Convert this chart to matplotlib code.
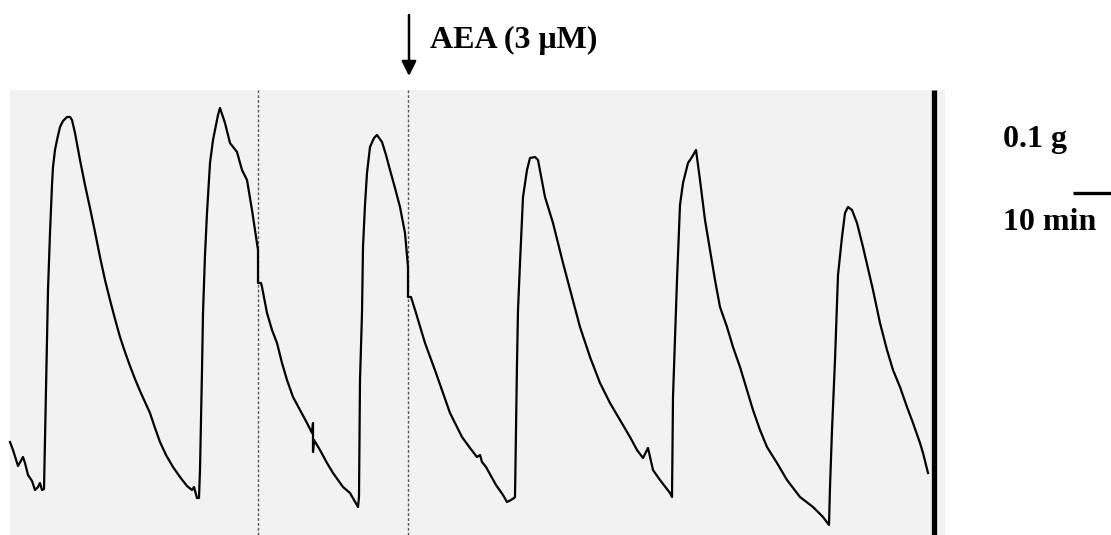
import matplotlib
matplotlib.use('Agg')
import matplotlib.pyplot as plt
import matplotlib.patches as mpatches

# contraction trace
# time (min), tension (mg)
time_min = [
    # baseline + 1st contraction
    0, 0.75, 2.0, 3.25, 3.75, 4.5, 5.5, 6.25, 7.0, 7.5, 8.0, 8.5,
    8.75, 9.0, 9.25, 9.5, 10.0, 10.5, 10.75, 11.25, 11.75, 12.5, 13.25, 14.25, 15.0,
    15.5, 16.25, 17.5, 18.75, 20.0, 21.25, 22.5, 23.75, 25.0, 26.25, 27.5, 28.75, 30.0, 31.25,
    32.5, 33.75, 35.0, 36.25, 37.5, 39.0, 40.75, 42.5, 44.25, 45.5, 46.0, 46.75, 47.25,
    # 2nd
    47.5, 47.75, 48.0, 48.25, 48.75, 49.25, 50.0, 50.75, 51.25, 52.0, 52.5,
    53.75, 55.0, 56.75, 58.0, 59.25, 60.5, 61.25, 62.0, 62.0,
    62.75, 63.0, 64.25, 65.5, 66.75, 68.0, 69.25, 70.75, 72.5, 74.25, 75.5, 75.75, 75.75, 76.0,
    77.5, 79.25, 80.75, 83.25, 85.0, 87.0,
    # 3rd
    87.25, 87.5, 88.0, 88.25, 88.75, 89.25, 90.0, 91.0, 91.75,
    93.0, 94.0, 95.0, 96.25, 97.5, 98.75, 99.5, 99.5,
    100.25, 101.5, 103.75, 106.5, 108.25, 110.0, 113.0, 115.0, 116.75, 117.5, 118.0, 119.0,
    121.5, 123.25, 124.25, 125.25, 126.0,
    # 4th (AEA)
    126.25, 126.5, 126.75, 127.0, 127.5, 128.25, 129.25, 130.0, 131.25, 132.0,
    133.75, 135.75, 138.25, 140.5, 142.5, 145.0, 147.5, 150.0, 152.5, 155.0, 156.75, 158.25,
    159.5, 160.75, 162.5, 165.0, 165.5,
    # 5th
    165.75, 166.25, 166.75, 167.5, 168.25, 169.5, 170.5, 171.5,
    172.5, 173.75, 175.0, 176.25, 177.5, 179.25, 180.75, 182.5, 184.25, 185.75, 187.5, 189.25,
    191.75, 194.25, 197.5, 200.75, 203.25, 204.75,
    # 6th
    205.0, 205.5, 206.25, 207.0, 208.0, 208.75, 209.5,
    210.5, 211.75, 213.25, 215.0, 215.75, 217.5, 219.25, 220.75, 222.5, 224.25, 225.75,
    227.5, 228.25, 229.5,
]
tension_mg = [
    18.6, 17.0, 13.8, 15.6, 14.4, 12.0, 10.8, 9.0, 9.6, 10.4, 9.0, 9.2,
    19.0, 29.0, 39.0, 49.0, 60.4, 70.0, 73.6, 77.0, 79.0, 81.6, 82.8, 83.6, 83.6,
    83.0, 80.4, 75.0, 70.0, 65.4, 60.6, 55.6, 51.0, 47.0, 43.2, 39.6, 36.6, 33.8, 31.2,
    28.8, 26.6, 24.4, 21.4, 18.6, 16.0, 13.6, 11.6, 9.8, 9.0, 9.6, 7.4, 7.4,
    13.0, 23.0, 33.0, 44.4, 56.0, 64.4, 74.4, 79.0, 81.0, 84.0, 85.4,
    82.4, 78.4, 76.6, 73.0, 71.0, 65.0, 61.0, 57.0, 50.4,
    50.4, 49.6, 44.4, 41.0, 38.4, 34.4, 31.0, 27.6, 25.0, 22.4, 20.4, 22.4, 16.6, 19.0,
    17.0, 14.4, 12.4, 9.6, 8.4, 5.6,
    7.6, 31.0, 44.4, 57.6, 66.0, 72.4, 77.6, 79.4, 80.0,
    78.6, 76.0, 73.0, 69.4, 65.6, 60.4, 53.6, 47.6,
    47.6, 44.4, 38.4, 32.4, 28.4, 24.4, 19.6, 17.4, 15.6, 16.0, 14.6, 13.6,
    10.0, 8.0, 6.6, 7.0, 7.4,
    7.6, 21.0, 34.4, 45.0, 54.4, 67.6, 73.0, 75.4, 75.6, 75.0,
    67.6, 62.4, 54.4, 47.6, 41.6, 35.6, 30.4, 26.4, 23.0, 19.6, 17.0, 15.4,
    17.4, 13.0, 11.0, 8.4, 7.6,
    27.6, 39.0, 51.0, 66.0, 70.4, 74.4, 75.6, 77.0,
    71.0, 63.0, 57.0, 51.0, 45.6, 41.6, 37.6, 33.6, 29.0, 25.0, 21.0, 17.6,
    14.4, 11.0, 7.6, 5.6, 3.6, 2.0,
    9.6, 21.0, 35.0, 52.0, 59.6, 64.4, 65.6,
    65.0, 62.4, 57.6, 51.6, 49.0, 42.4, 37.0, 33.0, 29.6, 25.6, 22.4,
    18.4, 16.4, 12.4,
]

# chart marks
break_times = [62.0, 99.5]      # dotted cut lines on the chart
aea_time = 99.75                # drug added
drug_label = 'AEA (3 μM)'
force_label = '0.1 g'
time_label = '10 min'

fig = plt.figure(figsize=(11.11, 5.35), dpi=100)
ax = fig.add_axes([0, 0, 1, 1])
ax.set_xlim(-2.5, 275.25)
ax.set_ylim(0, 107)
ax.set_axis_off()

# scanned paper
ax.add_patch(mpatches.Rectangle((0, 0), 233.75, 89, facecolor='#f2f2f2', edgecolor='none', zorder=0))

# dotted cut lines
for bt in break_times:
    ax.vlines(bt, 0, 89, colors='#555555', linestyles=(0, (2, 1.5)), lw=1.0, zorder=1)

ax.plot(time_min, tension_mg, color='black', lw=1.6, zorder=3)

# thick bar at the right edge of the recording
ax.vlines(231.0, 0, 89, colors='black', lw=3.8, zorder=2)

# drug arrow and label
ax.annotate('', xy=(aea_time, 91.8), xytext=(aea_time, 104),
            arrowprops=dict(arrowstyle='-|>', lw=1.8, color='black', mutation_scale=22, shrinkA=0, shrinkB=0))
txt = dict(family=['Liberation Serif', 'DejaVu Serif'], fontweight='bold', fontsize=23, color='black')
ax.text(105, 99.0, drug_label, ha='left', va='center', **txt)

# scale bars
ax.text(248.25, 79.2, force_label, ha='left', va='center', **txt)
ax.hlines(68.4, 265.75, 275.25, colors='black', lw=2.4)
ax.text(248.25, 62.4, time_label, ha='left', va='center', **txt)

plt.savefig('out.png', dpi=100)
plt.close()
